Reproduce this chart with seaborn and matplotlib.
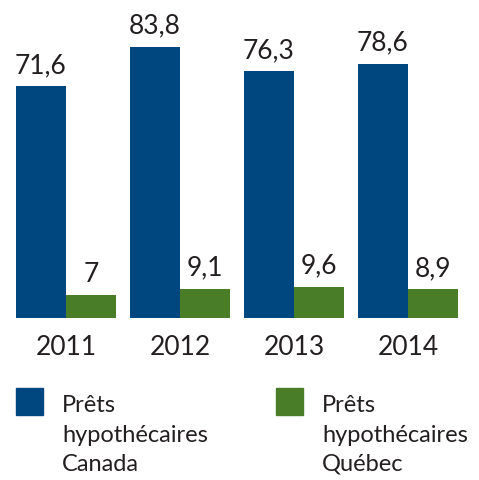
import pandas as pd
import numpy as np
import matplotlib.pyplot as plt
import seaborn as sns
from matplotlib.patches import Rectangle

# data
annees = ['2011', '2012', '2013', '2014']
canada = [71.6, 83.8, 76.3, 78.6]
quebec = [7.0, 9.1, 9.6, 8.9]
series = ['Prêts\nhypothécaires\nCanada', 'Prêts\nhypothécaires\nQuébec']
couleurs = ['#00467f', '#4a7d28']

df = pd.DataFrame({
    'annee': annees * 2,
    'valeur': canada + quebec,
    'serie': [series[0]] * 4 + [series[1]] * 4,
})

sns.set_style('white')
plt.rcParams['font.family'] = ['Lato', 'DejaVu Sans']
texte = '#231f20'

fig = plt.figure(figsize=(4.79, 4.80), dpi=100)
ax = fig.add_axes([9 / 479, 162 / 480, 456 / 479, 318 / 480])

sns.barplot(data=df, x='annee', y='valeur', hue='serie', palette=couleurs,
            width=100 / 114, saturation=1, linewidth=0, legend=False, ax=ax)

ax.set_xlim(-0.5, 3.5)
ax.set_ylim(0, 98.3)

# value labels with french decimal comma
for cont in ax.containers:
    labels = [f'{v:g}'.replace('.', ',') for v in cont.datavalues]
    ax.bar_label(cont, labels=labels, padding=6, fontsize=19, color=texte)

sns.despine(ax=ax, left=True, bottom=True)
ax.set_yticks([])
ax.set_xlabel('')
ax.set_ylabel('')
ax.tick_params(axis='x', length=0, pad=12, labelsize=19, labelcolor=texte)

# legend drawn by hand, square on top of a three line label
for i, (nom, c) in enumerate(zip(series, couleurs)):
    x0 = (16 + 260 * i) / 479
    fig.patches.append(Rectangle((x0, 1 - 415 / 480), 27 / 479, 27 / 480,
                                 transform=fig.transFigure, color=c))
    fig.text(x0 + 46 / 479, 1 - 395 / 480, nom, ha='left', va='top',
             fontsize=17, color=texte, linespacing=1.5)

fig.savefig('out.png', dpi=100)
